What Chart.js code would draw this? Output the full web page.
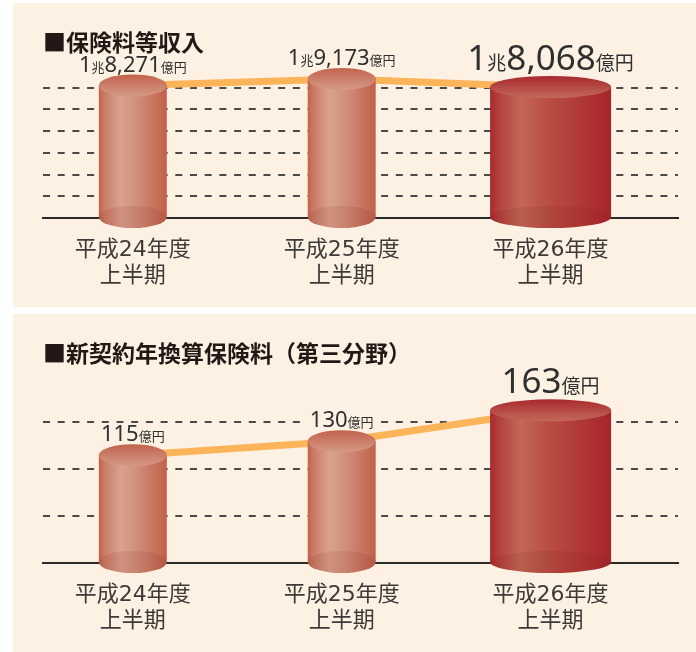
<!DOCTYPE html>
<html lang="ja">
<head>
<meta charset="utf-8">
<title>保険料等収入・新契約年換算保険料</title>
<script src="https://cdn.jsdelivr.net/npm/chart.js@4.4.1/dist/chart.umd.min.js"></script>
<style>
  html, body { margin: 0; padding: 0; background: #fff; }
  body { position: relative; width: 696px; height: 652px; overflow: hidden; }
  .panel { position: absolute; left: 13px; width: 683px; background: #fdf1e3; overflow: visible; }
  #panel-premium { top: 3px; height: 304px; }
  #panel-new { top: 314px; height: 338px; }
  canvas { display: block; position: relative; z-index: 1; }
</style>
</head>
<body>
<div class="panel" id="panel-premium"><canvas id="premiumChart" width="683" height="306"></canvas></div>
<div class="panel" id="panel-new"><canvas id="newChart" width="683" height="340"></canvas></div>
<script>
// periods shared by both charts
const periods = ['平成24年度', '平成25年度', '平成26年度'];
const periodSuffix = '上半期';

// 保険料等収入 (億円)
const premiumIncome = [18271, 19173, 18068];
// 新契約年換算保険料（第三分野） (億円)
const newAnnualized = [115, 130, 163];

// spacing of the dashed guide lines
const premiumGridStep = 3000;
const newGridStep = 50;

// styles (not data)
const barWidths = [68, 68, 121];
const emphasis = [false, false, true];
const CAP_RY = 11;
const PANEL_BG = '#fdf1e3';
const CJK = '"Noto Sans CJK JP", sans-serif';

const palettes = {
  normal: {
    side: [[0, '#c1634d'], [0.08, '#c97a65'], [0.32, '#d9a28e'], [0.55, '#d1907b'], [0.85, '#c76f59'], [1, '#c0604a']],
    top: ['#c2634d', '#d59a86'],
  },
  strong: {
    side: [[0, '#a9292e'], [0.08, '#b3423e'], [0.25, '#c26858'], [0.5, '#b84c42'], [0.85, '#ad3033'], [1, '#a6252b']],
    top: ['#a82a2f', '#c3695a'],
  },
};

function drawCylinder(ctx, cx, top, base, rx, ry, pal) {
  const left = cx - rx;
  const right = cx + rx;
  const side = ctx.createLinearGradient(left, 0, right, 0);
  pal.side.forEach(([stop, c]) => side.addColorStop(stop, c));

  ctx.save();
  // body with rounded bottom
  ctx.beginPath();
  ctx.moveTo(left, top);
  ctx.lineTo(left, base);
  ctx.ellipse(cx, base, rx, ry, 0, Math.PI, 0, true);
  ctx.lineTo(right, top);
  ctx.closePath();
  ctx.fillStyle = side;
  ctx.fill();

  // faint inner bottom ellipse
  ctx.beginPath();
  ctx.ellipse(cx, base, rx, ry, 0, 0, Math.PI * 2);
  ctx.fillStyle = 'rgba(110, 20, 10, 0.10)';
  ctx.fill();

  // top cap
  const cap = ctx.createLinearGradient(0, top - ry, 0, top + ry);
  cap.addColorStop(0, pal.top[0]);
  cap.addColorStop(1, pal.top[1]);
  ctx.beginPath();
  ctx.ellipse(cx, top, rx, ry, 0, 0, Math.PI * 2);
  ctx.fillStyle = cap;
  ctx.fill();
  ctx.restore();
}

function labelParts(value) {
  if (value >= 10000) {
    const cho = Math.floor(value / 10000);
    const oku = (value % 10000).toLocaleString('en-US');
    return [[String(cho), 'num'], ['兆', 'unit'], [oku, 'num'], ['億円', 'unit']];
  }
  return [[String(value), 'num'], ['億円', 'unit']];
}

const cylinderPlugin = {
  id: 'cylinders',
  afterDatasetDraw(chart, args) {
    if (args.meta.type !== 'bar') return;
    const ctx = chart.ctx;
    args.meta.data.forEach((bar, i) => {
      const pal = emphasis[i] ? palettes.strong : palettes.normal;
      drawCylinder(ctx, bar.x, bar.y, bar.base, barWidths[i] / 2, CAP_RY, pal);
    });
  },
};

const valueLabelPlugin = {
  id: 'valueLabels',
  afterDatasetsDraw(chart) {
    const ctx = chart.ctx;
    const meta = chart.getDatasetMeta(0);
    const values = chart.data.datasets[0].data;
    meta.data.forEach((bar, i) => {
      const size = emphasis[i] ? { num: 35, unit: 19, gap: 6 } : { num: 22, unit: 13, gap: 3 };
      const parts = labelParts(values[i].y);
      const fonts = parts.map(([, kind]) =>
        kind === 'num' ? `400 ${size.num}px "Noto Sans", "DejaVu Sans", sans-serif` : `400 ${size.unit}px ${CJK}`);
      ctx.save();
      ctx.textBaseline = 'alphabetic';
      ctx.textAlign = 'left';
      const widths = parts.map(([text], k) => { ctx.font = fonts[k]; return ctx.measureText(text).width; });
      const total = widths.reduce((a, b) => a + b, 0);
      let x = bar.x - total / 2;
      const y = bar.y - CAP_RY - size.gap;

      // clear a dashed guide running through the lower part of the text
      const capHeight = size.num * 0.72;
      ctx.fillStyle = PANEL_BG;
      ctx.fillRect(x - 3, y - capHeight / 2, total + 6, capHeight / 2);

      ctx.fillStyle = '#2f2f2f';
      parts.forEach(([text], k) => {
        ctx.font = fonts[k];
        ctx.fillText(text, x, y);
        x += widths[k];
      });
      ctx.restore();
    });
  },
};

function buildChart(canvasId, title, values, gridStep, yMax, titleGap) {
  const points = values.map((v, i) => ({ x: i, y: v }));
  return new Chart(document.getElementById(canvasId), {
    type: 'bar',
    data: {
      datasets: [
        {
          type: 'bar',
          data: points,
          order: 1,
          backgroundColor: 'rgba(0,0,0,0)',
          borderWidth: 0,
        },
        {
          type: 'line',
          data: points,
          order: 2,
          borderColor: '#fbb45a',
          borderWidth: 7,
          pointRadius: 0,
          tension: 0,
          clip: false,
        },
      ],
    },
    options: {
      responsive: false,
      animation: false,
      devicePixelRatio: 1,
      events: [],
      layout: { padding: { left: 30, right: 18, top: 0, bottom: 0.2 } },
      plugins: {
        legend: { display: false },
        tooltip: { enabled: false },
        title: {
          display: true,
          text: title,
          align: 'start',
          color: '#231815',
          font: { family: CJK, size: 23, weight: 'bold' },
          padding: { top: 25.2, bottom: titleGap },
        },
      },
      scales: {
        x: {
          type: 'linear',
          offset: false,
          min: -0.43,
          max: 2.61,
          afterBuildTicks: (axis) => { axis.ticks = periods.map((_, i) => ({ value: i })); },
          ticks: {
            autoSkip: false,
            maxRotation: 0,
            padding: 19,
            color: '#3e3a39',
            font: { family: '"DejaVu Sans", "Noto Sans CJK JP", sans-serif', size: 22 },
            callback: (v) => [periods[v], periodSuffix],
          },
          grid: { display: false, drawTicks: false },
          border: { display: true, color: '#2a2a2a', width: 2 },
        },
        y: {
          min: 0,
          max: yMax,
          afterBuildTicks: (axis) => {
            const ticks = [];
            for (let v = 0; v <= yMax; v += gridStep) ticks.push({ value: v });
            axis.ticks = ticks;
          },
          ticks: { display: false },
          grid: {
            drawTicks: false,
            lineWidth: 2,
            color: (c) => (c.tick && c.tick.value > 0 ? '#4a4a4a' : 'rgba(0,0,0,0)'),
          },
          border: { display: false, dash: [7, 7.7] },
        },
      },
    },
    plugins: [cylinderPlugin, valueLabelPlugin],
  });
}

buildChart('premiumChart', '■保険料等収入', premiumIncome, premiumGridStep, 20000, 17.2);
buildChart('newChart', '■新契約年換算保険料（第三分野）', newAnnualized, newGridStep, 190, 18.2);
</script>
</body>
</html>
